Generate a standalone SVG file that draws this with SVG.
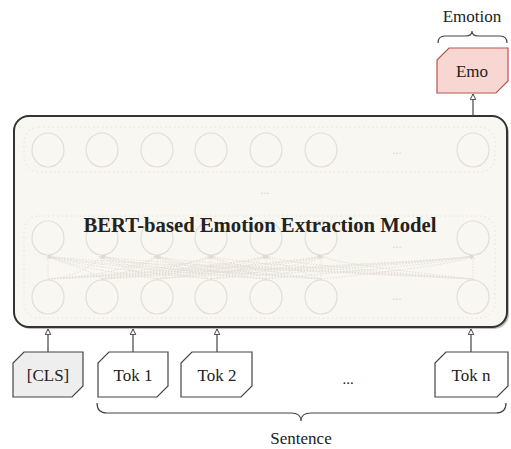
<svg xmlns="http://www.w3.org/2000/svg" width="511" height="449" viewBox="0 0 511 449">
<style>
.lbl{font-family:"Liberation Serif","Times New Roman",serif;fill:#222;text-anchor:middle}
.tok{fill:#ffffff;stroke:#444;stroke-width:1.2}
.cell{fill:none;stroke:#e3dfd7;stroke-width:1.2}
.grp{fill:none;stroke:#e6e2da;stroke-width:1;stroke-dasharray:1.5 3}
.att{fill:none;stroke:#e4e0d8;stroke-width:1;stroke-dasharray:1.5 1.5}
.dots{font-family:"Liberation Serif",serif;fill:#d9d5cd;font-size:12px;text-anchor:middle}
.edge{fill:none;stroke:#444;stroke-width:1.2}
</style>
<defs>
<marker id="arr" viewBox="0 0 10 10" refX="9" refY="5" markerWidth="7" markerHeight="7" orient="auto" markerUnits="userSpaceOnUse">
<path d="M1,1 L9,5 L1,9 Z" fill="#fff" stroke="#444" stroke-width="1.4"/>
</marker>
<marker id="sarr" viewBox="0 0 10 10" refX="9" refY="5" markerWidth="4" markerHeight="4" orient="auto" markerUnits="userSpaceOnUse">
<path d="M1,1 L9,5 L1,9" fill="none" stroke="#dcd8d0" stroke-width="1.5"/>
</marker>
</defs>

<g id="model">
<rect x="15" y="118" width="494" height="211" rx="15" fill="#777" opacity="0.5"/>
<rect x="14" y="116" width="493" height="211" rx="15" fill="#f9f7f1" stroke="#333" stroke-width="2"/>
<rect class="grp" x="24" y="127" width="471" height="45" rx="15"/>
<rect class="grp" x="24" y="216" width="471" height="102" rx="15"/>
<g id="row1">
<ellipse class="cell" cx="48" cy="150" rx="16" ry="17"/>
<ellipse class="cell" cx="102" cy="150" rx="16" ry="17"/>
<ellipse class="cell" cx="157" cy="150" rx="16" ry="17"/>
<ellipse class="cell" cx="211" cy="150" rx="16" ry="17"/>
<ellipse class="cell" cx="266" cy="150" rx="16" ry="17"/>
<ellipse class="cell" cx="321" cy="150" rx="16" ry="17"/>
<ellipse class="cell" cx="473" cy="150" rx="16" ry="17"/>
<text class="dots" x="397" y="154">...</text>
</g>
<text class="dots" x="265" y="194">...</text>
<g id="row2">
<ellipse class="cell" cx="48" cy="238" rx="16" ry="17"/>
<ellipse class="cell" cx="102" cy="238" rx="16" ry="17"/>
<ellipse class="cell" cx="157" cy="238" rx="16" ry="17"/>
<ellipse class="cell" cx="211" cy="238" rx="16" ry="17"/>
<ellipse class="cell" cx="266" cy="238" rx="16" ry="17"/>
<ellipse class="cell" cx="321" cy="238" rx="16" ry="17"/>
<ellipse class="cell" cx="473" cy="238" rx="16" ry="17"/>
<text class="dots" x="397" y="248" font-size="11">...</text>
</g>
<g id="row3">
<ellipse class="cell" cx="48" cy="297" rx="16" ry="17"/>
<ellipse class="cell" cx="102" cy="297" rx="16" ry="17"/>
<ellipse class="cell" cx="157" cy="297" rx="16" ry="17"/>
<ellipse class="cell" cx="211" cy="297" rx="16" ry="17"/>
<ellipse class="cell" cx="266" cy="297" rx="16" ry="17"/>
<ellipse class="cell" cx="321" cy="297" rx="16" ry="17"/>
<ellipse class="cell" cx="473" cy="297" rx="16" ry="17"/>
<text class="dots" x="397" y="300">...</text>
</g>
<g id="attention">
<path class="att" d="M48,280 L48,256" marker-end="url(#sarr)"/>
<path class="att" d="M48,279 C80,276 90,266 102,256" marker-end="url(#sarr)"/>
<path class="att" d="M48,279 C100,276 140,266 157,256" marker-end="url(#sarr)"/>
<path class="att" d="M48,279 C120,275 190,265 211,256" marker-end="url(#sarr)"/>
<path class="att" d="M48,279 C140,274 240,264 266,256" marker-end="url(#sarr)"/>
<path class="att" d="M48,279 C160,273 290,263 321,256" marker-end="url(#sarr)"/>
<path class="att" d="M48,279 C200,272 430,262 473,256" marker-end="url(#sarr)"/>
<path class="att" d="M102,280 L102,256" marker-end="url(#sarr)"/>
<path class="att" d="M102,279 C90,270 60,262 48,256" marker-end="url(#sarr)"/>
<path class="att" d="M102,279 C120,275 145,265 157,256" marker-end="url(#sarr)"/>
<path class="att" d="M102,279 C140,274 195,264 211,256" marker-end="url(#sarr)"/>
<path class="att" d="M102,279 C160,274 245,264 266,256" marker-end="url(#sarr)"/>
<path class="att" d="M102,279 C180,273 300,263 321,256" marker-end="url(#sarr)"/>
<path class="att" d="M102,279 C220,272 440,262 473,256" marker-end="url(#sarr)"/>
<path class="att" d="M157,280 L157,256" marker-end="url(#sarr)"/>
<path class="att" d="M157,279 C120,274 60,264 48,256" marker-end="url(#sarr)"/>
<path class="att" d="M157,279 C140,272 110,264 102,256" marker-end="url(#sarr)"/>
<path class="att" d="M157,279 C175,274 200,264 211,256" marker-end="url(#sarr)"/>
<path class="att" d="M157,279 C200,274 250,264 266,256" marker-end="url(#sarr)"/>
<path class="att" d="M157,279 C220,273 305,263 321,256" marker-end="url(#sarr)"/>
<path class="att" d="M157,279 C250,272 445,262 473,256" marker-end="url(#sarr)"/>
<path class="att" d="M211,280 L211,256" marker-end="url(#sarr)"/>
<path class="att" d="M211,279 C150,273 65,264 48,256" marker-end="url(#sarr)"/>
<path class="att" d="M211,279 C170,274 115,264 102,256" marker-end="url(#sarr)"/>
<path class="att" d="M211,279 C195,272 165,264 157,256" marker-end="url(#sarr)"/>
<path class="att" d="M211,279 C230,274 255,264 266,256" marker-end="url(#sarr)"/>
<path class="att" d="M211,279 C250,274 310,264 321,256" marker-end="url(#sarr)"/>
<path class="att" d="M211,279 C280,273 450,262 473,256" marker-end="url(#sarr)"/>
<path class="att" d="M266,280 L266,256" marker-end="url(#sarr)"/>
<path class="att" d="M266,279 C180,272 70,263 48,256" marker-end="url(#sarr)"/>
<path class="att" d="M266,279 C200,273 120,264 102,256" marker-end="url(#sarr)"/>
<path class="att" d="M266,279 C225,274 170,264 157,256" marker-end="url(#sarr)"/>
<path class="att" d="M266,279 C250,272 220,264 211,256" marker-end="url(#sarr)"/>
<path class="att" d="M266,279 C285,274 310,264 321,256" marker-end="url(#sarr)"/>
<path class="att" d="M266,279 C320,274 455,263 473,256" marker-end="url(#sarr)"/>
<path class="att" d="M321,280 L321,256" marker-end="url(#sarr)"/>
<path class="att" d="M321,279 C220,272 75,263 48,256" marker-end="url(#sarr)"/>
<path class="att" d="M321,279 C240,273 125,264 102,256" marker-end="url(#sarr)"/>
<path class="att" d="M321,279 C260,274 175,264 157,256" marker-end="url(#sarr)"/>
<path class="att" d="M321,279 C280,274 225,264 211,256" marker-end="url(#sarr)"/>
<path class="att" d="M321,279 C305,272 275,264 266,256" marker-end="url(#sarr)"/>
<path class="att" d="M321,279 C370,274 460,264 473,256" marker-end="url(#sarr)"/>
<path class="att" d="M473,280 L473,256" marker-end="url(#sarr)"/>
<path class="att" d="M473,279 C330,272 80,262 48,256" marker-end="url(#sarr)"/>
<path class="att" d="M473,279 C350,272 130,263 102,256" marker-end="url(#sarr)"/>
<path class="att" d="M473,279 C370,273 180,264 157,256" marker-end="url(#sarr)"/>
<path class="att" d="M473,279 C390,273 235,264 211,256" marker-end="url(#sarr)"/>
<path class="att" d="M473,279 C410,274 285,264 266,256" marker-end="url(#sarr)"/>
<path class="att" d="M473,279 C430,274 335,264 321,256" marker-end="url(#sarr)"/>
</g>
<text class="lbl" x="260" y="232" font-size="20.7" font-weight="bold" fill="#111">BERT-based Emotion Extraction Model</text>
</g>

<g id="cls">
<polygon points="24,352 83,352 83,386 72,397 13,397 13,363" fill="#eeeeee" stroke="#444" stroke-width="1.2"/>
<text class="lbl" x="48" y="381" font-size="17" fill="#333">[CLS]</text>
</g>
<g id="tok1">
<polygon class="tok" points="109,352 168,352 168,386 157,397 98,397 98,363"/>
<text class="lbl" x="133" y="381" font-size="17">Tok 1</text>
</g>
<g id="tok2">
<polygon class="tok" points="192,352 252,352 252,386 241,397 181,397 181,363"/>
<text class="lbl" x="217" y="381" font-size="17">Tok 2</text>
</g>
<text class="lbl" x="348" y="384" font-size="15">...</text>
<g id="tokn">
<polygon class="tok" points="446,352 508,352 508,386 497,397 435,397 435,363"/>
<text class="lbl" x="471" y="381" font-size="17">Tok n</text>
</g>
<g id="emo">
<polygon points="449,48 508,48 508,81 496,93 437,93 437,60" fill="#f8d7d3" stroke="#b85450" stroke-width="1.2"/>
<text class="lbl" x="472" y="77" font-size="17">Emo</text>
</g>

<g id="connectors">
<line class="edge" x1="48" y1="352" x2="48" y2="329" marker-end="url(#arr)"/>
<line class="edge" x1="133" y1="352" x2="133" y2="329" marker-end="url(#arr)"/>
<line class="edge" x1="217" y1="352" x2="217" y2="329" marker-end="url(#arr)"/>
<line class="edge" x1="471" y1="352" x2="471" y2="329" marker-end="url(#arr)"/>
<line class="edge" x1="473" y1="116" x2="473" y2="94" marker-end="url(#arr)"/>
</g>

<g id="sentence">
<path class="edge" d="M97,403 Q97,413 107,413 L291,413 Q301,413 301,421 Q301,413 311,413 L496,413 Q506,413 506,403"/>
<text class="lbl" x="301" y="444" font-size="17">Sentence</text>
</g>
<g id="emotion">
<path class="edge" d="M438,43 Q438,36 445,36 L466,36 Q472,36 472,31 Q472,36 478,36 L500,36 Q507,36 507,43"/>
<text class="lbl" x="472" y="22" font-size="17">Emotion</text>
</g>
</svg>
